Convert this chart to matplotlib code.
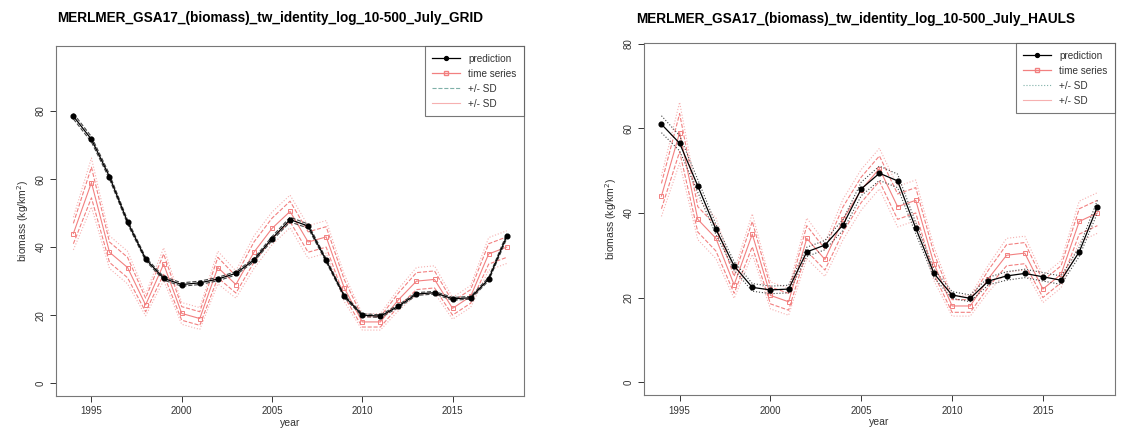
import matplotlib

matplotlib.use("Agg")
import numpy as np
from matplotlib import pyplot as plt

plt.rcParams["font.family"] = ["Liberation Sans", "DejaVu Sans"]

years = np.arange(1994, 2019)

# observed time series (same in both panels) and its SD
ts_values = [44.0, 59.0, 38.5, 34.0, 23.0, 35.0, 20.5, 19.0, 34.0, 29.0, 38.5, 45.5, 50.5,
             41.5, 43.0, 28.0, 18.0, 18.0, 24.5, 30.0, 30.5, 22.0, 25.5, 38.0, 40.0]
ts_sd = [3.0, 4.5, 3.0, 3.0, 2.0, 3.0, 2.0, 2.0, 3.0, 2.5, 3.0, 3.0, 3.0,
         3.0, 3.0, 2.5, 1.5, 1.5, 2.0, 2.5, 2.5, 2.0, 2.0, 3.0, 3.0]

# GRID model prediction
grid_pred = [78.5, 71.7, 60.7, 47.4, 36.5, 30.8, 29.0, 29.5, 30.6, 32.3, 36.2, 42.5, 48.1,
             46.2, 36.1, 25.6, 20.0, 19.7, 22.6, 26.2, 26.6, 24.8, 25.1, 30.6, 43.2]
grid_sd = [0.8, 0.8, 0.7, 0.6, 0.5, 0.5, 0.5, 0.5, 0.5, 0.5, 0.5, 0.6, 0.7,
           0.6, 0.5, 0.4, 0.4, 0.4, 0.4, 0.4, 0.4, 0.4, 0.4, 0.5, 0.7]

# HAULS model prediction
hauls_pred = [61.0, 56.5, 46.4, 36.1, 27.5, 22.4, 21.8, 22.0, 30.8, 32.4, 37.2, 45.7, 49.4,
              47.6, 36.4, 25.7, 20.6, 19.8, 23.9, 25.1, 25.7, 24.9, 24.1, 30.8, 41.5]
hauls_sd = [2.0, 1.8, 1.5, 1.2, 1.0, 0.9, 0.9, 0.9, 1.1, 1.1, 1.3, 1.6, 1.7,
            1.6, 1.3, 1.0, 0.8, 0.8, 0.9, 1.0, 1.0, 1.0, 1.0, 1.1, 1.5]

titles = [
    "MERLMER_GSA17_(biomass)_tw_identity_log_10-500_July_GRID",
    "MERLMER_GSA17_(biomass)_tw_identity_log_10-500_July_HAULS",
]

red = "#f28080"
pink = "#f6b0b0"


def draw_panel(ax, pred, pred_sd, ylim, pred_ls):
    pred = np.array(pred)
    pred_sd = np.array(pred_sd)
    ts = np.array(ts_values)
    sd = np.array(ts_sd)

    ax.plot(years, ts + sd, ls="--", lw=0.8, color=red, zorder=2)
    ax.plot(years, ts - sd, ls="--", lw=0.8, color=red, zorder=2)
    ax.plot(years, ts + 1.6 * sd, ls=":", lw=0.8, color=pink, zorder=2)
    ax.plot(years, ts - 1.6 * sd, ls=":", lw=0.8, color=pink, zorder=2)
    ax.plot(years, ts, lw=0.8, color=red, marker="s", ms=3.2, mfc="none", mew=0.7, zorder=3)
    ax.plot(years, pred + pred_sd, ls=pred_ls, lw=0.8, color="#444444", zorder=4)
    ax.plot(years, pred - pred_sd, ls=pred_ls, lw=0.8, color="#444444", zorder=4)
    ax.plot(years, pred, lw=0.9, color="black", marker="o", ms=3.4, zorder=5)

    # legend entries like the R legend
    h_pred = plt.Line2D([], [], color="black", lw=0.9, marker="o", ms=2.8)
    h_ts = plt.Line2D([], [], color=red, lw=0.9, marker="s", ms=2.8, mfc="none")
    h_sd1 = plt.Line2D([], [], color="#7fb0a8", lw=0.8, ls=pred_ls)
    h_sd2 = plt.Line2D([], [], color=pink, lw=0.8)
    leg = ax.legend(
        [h_pred, h_ts, h_sd1, h_sd2],
        ["prediction", "time series", "+/- SD", "+/- SD"],
        loc="upper right",
        fontsize=7.2,
        frameon=True,
        fancybox=False,
        borderaxespad=0,
        handlelength=2.8,
        handletextpad=0.8,
        labelspacing=0.5,
        borderpad=0.75,
    )
    leg.get_frame().set_edgecolor("#555555")
    leg.get_frame().set_linewidth(0.8)
    for t in leg.get_texts():
        t.set_color("#333333")

    ax.set_xlim(1993.04, 2018.96)
    ax.set_ylim(*ylim)
    ax.set_xticks([1995, 2000, 2005, 2010, 2015])
    ax.set_yticks([0, 20, 40, 60, 80])
    for lbl in ax.get_yticklabels():
        lbl.set_rotation(90)
        lbl.set_va("center")
    ax.tick_params(axis="both", direction="out", length=4, width=0.7, labelsize=7,
                   colors="#333333")
    for sp in ax.spines.values():
        sp.set_color("#777777")
        sp.set_linewidth(0.8)
    ax.set_xlabel("year", fontsize=7.5, color="#333333", labelpad=1)
    ax.set_ylabel(r"biomass (kg/km$^2$)", fontsize=7.5, color="#333333", labelpad=3)


def main():
    fig = plt.figure(figsize=(11.21, 4.44), dpi=100)
    ax1 = fig.add_axes([0.050, 0.108, 0.4175, 0.788])
    ax2 = fig.add_axes([0.5745, 0.110, 0.420, 0.793])

    draw_panel(ax1, grid_pred, grid_sd, (-3.8, 99.1), "--")
    draw_panel(ax2, hauls_pred, hauls_sd, (-3.1, 80.2), ":")

    fig.text(270 / 1121, 1 - 18 / 444, titles[0], ha="center", va="center",
             fontsize=9.8, fontweight="bold")
    fig.text(856 / 1121, 1 - 19 / 444, titles[1], ha="center", va="center",
             fontsize=9.8, fontweight="bold")

    fig.savefig("out.png", dpi=100)


if __name__ == "__main__":
    main()
